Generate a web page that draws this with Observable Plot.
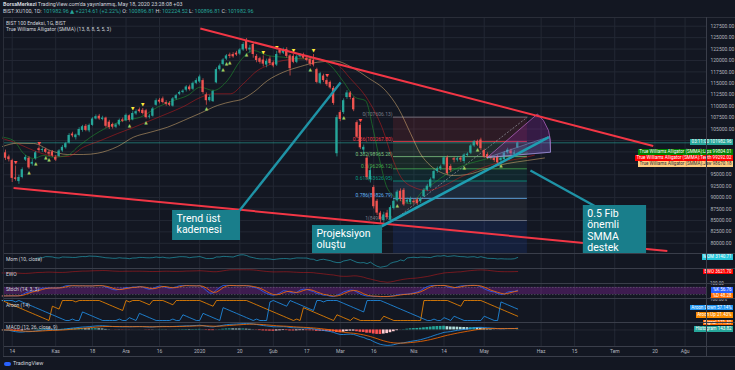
<!DOCTYPE html>
<html><head><meta charset="utf-8">
<script src="https://cdn.jsdelivr.net/npm/d3@7"></script>
<script src="https://cdn.jsdelivr.net/npm/@observablehq/plot@0.6"></script>
<style>
html,body{margin:0;padding:0;background:#131722;}
#root{position:relative;width:735px;height:370px;background:#131722;overflow:hidden;font-family:Roboto,"DejaVu Sans",sans-serif;color:#d1d4dc;}
.t{position:absolute;white-space:nowrap;font-size:5px;line-height:6px;}
.tag{position:absolute;right:2px;height:5.6px;line-height:5.6px;font-size:4.5px;white-space:nowrap;padding:0 1.5px;color:#fff;}
.ln{position:absolute;}
.v{color:#26a69a;}
</style></head><body><div id="root"></div>
<script>
// ---------- DATA ----------
const firstIndex = -3; // bar index of first candle (0 = 14 Oct 2019)
const opens = [
102400, 99800, 98900, 98100, 94300, 93500, 94400, 98200, 98600, 97300,
98500, 100700, 100300, 100500, 99900, 100000, 98800, 99000, 100200, 100900,
101900, 103900, 103100, 103600, 104700, 105600, 104600, 105800, 107200, 107800,
107100, 107400, 106500, 106000, 105400, 105900, 107000, 106800, 107900, 107000,
108300, 109200, 109100, 109000, 107600, 107800, 110200, 111300, 111600, 110800,
110600, 110000, 111600, 112600, 113000, 113500, 114200, 113700, 115000, 115300,
115600, 112500, 111200, 111000, 115100, 118000, 119100, 120300, 121200, 121300,
121600, 121400, 122300, 124200, 122300, 123500, 120900, 120400, 120100, 119000,
120300, 119500, 119000, 122200, 121600, 122400, 121000, 120900, 119600, 120800,
121200, 120500, 120200, 120000, 118000, 115000, 116600, 115600, 115200, 113900,
99600, 108600, 108600, 111900, 112900, 111700, 106400, 105800, 100400, 98600,
93900, 92200, 89200, 86600, 85000, 86600, 85100, 87600, 89300, 91400,
91600, 89000, 88900, 89200, 89500, 89100, 90200, 91600, 92300, 94100,
95700, 96300, 97200, 98700, 96800, 98500, 98200, 98600, 97900, 99200,
99700, 101300, 102300, 102600, 100300, 99400, 98900, 98600, 99000, 98100,
98300, 99800, 100200, 99500, 100896.81];
const highs = [
102900, 100400, 99300, 98400, 96900, 94900, 96500, 99200, 99000, 98300,
100100, 101100, 100900, 100800, 100300, 100300, 99200, 100500, 101400, 102100,
104000, 104300, 103900, 105300, 105800, 106000, 106100, 107500, 108100, 108200,
107800, 107600, 106900, 106300, 106200, 107200, 107400, 108300, 108100, 108800,
109200, 109600, 109500, 109300, 108200, 109700, 111600, 111700, 112000, 111200,
111000, 111900, 112600, 113300, 113600, 114500, 114600, 115300, 116000, 116800,
116000, 112900, 112400, 113500, 118400, 119200, 120400, 121300, 121600, 121700,
122000, 122600, 123900, 124800, 123300, 123900, 121300, 120700, 121000, 120300,
120800, 119900, 122000, 122600, 122700, 122800, 121300, 121300, 121100, 121500,
121600, 120900, 120600, 121300, 118300, 117400, 117000, 116000, 115500, 114300,
108000, 109000, 111600, 113400, 113200, 112000, 106800, 106200, 101500, 99000,
96600, 92600, 89600, 87000, 86800, 87200, 88200, 89600, 91600, 91900,
92000, 89900, 90100, 89700, 89900, 90100, 92000, 92900, 94300, 96100,
96700, 97100, 99000, 99100, 97200, 98800, 98900, 99000, 99600, 99800,
101600, 102500, 102600, 103000, 100600, 99800, 99200, 99000, 99300, 99000,
100100, 100800, 100600, 100300, 102224.52];
const lows = [
99400, 98100, 97800, 93300, 93600, 92900, 94100, 97900, 96200, 96900,
98200, 99900, 99900, 99600, 99000, 98800, 97900, 98800, 99900, 100600,
101700, 103100, 102600, 103300, 104300, 104400, 104200, 105600, 107000, 106900,
106800, 105200, 104900, 105000, 105100, 105600, 106400, 106600, 106500, 106800,
108000, 108500, 108100, 107200, 107200, 107600, 110000, 110500, 110500, 110000,
109900, 109800, 111300, 112300, 112700, 113100, 113300, 113400, 114700, 115000,
112600, 110200, 110900, 110800, 114900, 117700, 118800, 120000, 120400, 120500,
120900, 121100, 122000, 122000, 121600, 120500, 119500, 119200, 118600, 118400,
118900, 118400, 118700, 121200, 121300, 120500, 116600, 119300, 119300, 120500,
120300, 119700, 118700, 118600, 114900, 114700, 115200, 114300, 113700, 110200,
98900, 106600, 108200, 111500, 111400, 108800, 102900, 100500, 99500, 93900,
93200, 87500, 86100, 84300, 84400, 85200, 84700, 87300, 89000, 89100,
88100, 88600, 88400, 88500, 88300, 88700, 90000, 91300, 92000, 93800,
95300, 95900, 96900, 94900, 95500, 97600, 97800, 97700, 97400, 98900,
99400, 101000, 101200, 100300, 98600, 98300, 98200, 97700, 97200, 97700,
98000, 99500, 99200, 99300, 100896.81];
const closes = [
99700, 98600, 98300, 94200, 94000, 94400, 96100, 98800, 96500, 97700,
99800, 100300, 100500, 99900, 99500, 99100, 98200, 100200, 101000, 101800,
103600, 103500, 103700, 104900, 105500, 104700, 105800, 107200, 107700, 107200,
107400, 105600, 105300, 105400, 105900, 106900, 106700, 108000, 106900, 108400,
108800, 108800, 108400, 107500, 107800, 109400, 111200, 110900, 110800, 110400,
110200, 111600, 112300, 113000, 113300, 114200, 113600, 115000, 115600, 116400,
113000, 111200, 111900, 113200, 118000, 118800, 120100, 121000, 120900, 120800,
121200, 122300, 123500, 122500, 122700, 121300, 120000, 119600, 119200, 119800,
119300, 118800, 121300, 121600, 122300, 120900, 118200, 119600, 120800, 121200,
120500, 120000, 119200, 119000, 115200, 117100, 115600, 114700, 114000, 110600,
107500, 107100, 111200, 112900, 111900, 109200, 103200, 100900, 101000, 94400,
95900, 88000, 86600, 85200, 86200, 85600, 87800, 89200, 91200, 89600,
88400, 89400, 89600, 88900, 88700, 89700, 91600, 92500, 93900, 95700,
96300, 96700, 98700, 95200, 95900, 98200, 98500, 98200, 99300, 99500,
101300, 102200, 101500, 100700, 98842.25, 98600, 98600, 98100, 97600, 98600,
99700, 100400, 99600, 99768.35, 101982.96];

// time axis (bar index of each label)
const tickIdx = [0, 13, 24, 34, 44, 56, 68, 78, 88, 98, 108, 120, 129, 141, 158, 168, 180, 192, 201];
const tickLabels = ["14", "Kas", "18", "Ara", "16", "2020", "20", "Şub", "17", "Mar", "16", "Nis", "14", "May", "Haz", "15", "Tem", "20", "Ağu"];
const priceTicks = [80000, 82500, 85000, 87500, 90000, 92500, 95000, 97500, 100000, 102500, 105000, 107500, 110000, 112500, 115000, 117500, 120000, 122500, 125000, 127500];
// price labels hidden behind the value tags in the picture
const hiddenPriceLabels = [97500, 100000, 102500];

// Alligator lines (bar index, value)
const jawBars = [-2.9, 1.6, 6.4, 11.4, 16.5, 21.3, 25.5, 31.5, 36.2, 41.3, 46.4, 51.2, 56.2, 61.3, 66.1, 68.2, 72.1, 76.3, 81.0, 86.1, 91.2, 96.6, 101.0, 106.4, 111.5, 115.4, 119.0, 121.9, 124.9, 127.9, 131.8, 136.0, 141.9, 147.9, 153.9, 159];
const jawVals = [101180, 101900, 101840, 100300, 99430, 99430, 99710, 101180, 103210, 104310, 105400, 106870, 108460, 110150, 111090, 111400, 113060, 115620, 117440, 118680, 119620, 119890, 118680, 116170, 113430, 109490, 104020, 99650, 97020, 95560, 94830, 95050, 96370, 97460, 98120, 98670.18];
const teethBars = [-2.9, 1.6, 6.4, 11.4, 16.5, 21.3, 26.4, 31.5, 36.2, 41.3, 46.4, 51.2, 56.2, 60.1, 65.2, 69.1, 73.3, 76.3, 81.0, 86.1, 91.2, 96.6, 101.0, 106.4, 110.6, 113.6, 116.0, 119.9, 124.1, 127.9, 133.9, 139.9, 145.8, 151.8, 156];
const teethVals = [102930, 101840, 100300, 99210, 98990, 101030, 102490, 104020, 105340, 106870, 108400, 109930, 111900, 112710, 112710, 114960, 117810, 118900, 120000, 120370, 120210, 119340, 116060, 111240, 105120, 98550, 94610, 92270, 91550, 92270, 94460, 96370, 97740, 98550, 99292.02];
const lipsBars = [-2.9, 0.4, 3.4, 6.4, 9.3, 12.3, 16.5, 19.5, 23.4, 28.5, 33.2, 38.3, 43.4, 48.2, 52.4, 56.2, 60.1, 64.3, 68.2, 72.1, 76.3, 81.0, 86.1, 91.2, 95.1, 98.9, 102.5, 105.5, 107.9, 110.0, 112.1, 116.0, 119.0, 122.8, 125.8, 130.0, 134.8, 139.9, 143.8, 149.7, 154];
const lipsVals = [103210, 102490, 99650, 98550, 99210, 98840, 99210, 101030, 103210, 105400, 106870, 107590, 109780, 111240, 112340, 114150, 113430, 115620, 120000, 122180, 121090, 120720, 120370, 120370, 118900, 115400, 111900, 111240, 104680, 97460, 91990, 89360, 88710, 91550, 93080, 95270, 97020, 98120, 98840, 99210, 99804.01];

// Williams fractal markers (bar indices)
const fractalHighYellow = [36, 39, 75, 79, 84, 90];
const fractalHighRed = [1, 8, 94, 104];
const fractalLow = [5, 7, 10, 11, 35, 40, 58, 63, 64, 65, 70, 89, 99, 110, 115, 135, 139, 146];

// Fibonacci retracement
const fibRatios = ["0", "0.236", "0.382", "0.5", "0.618", "0.786", "1"];
const fibPrices = [107606.13, 102267.80, 98965.28, 96296.12, 93626.95, 89826.79, 84986.13];
const fibColors = ["#787b86", "#f23645", "#81c784", "#4caf50", "#089981", "#64b5f6", "#787b86"];
const fibStart = 113.9, fibEnd = 153.9;

// drawings (bar index, price)
const redLines = [{x1: 56.2, y1: 127000, x2: 191.5, y2: 101290}, {x1: 0.4, y1: 92100, x2: 195.7, y2: 78310}];
const supportLine = [{x1: 108.8, y1: 83130, x2: 160.3, y2: 103210}];
const calloutLines = [{x1: 67.2, y1: 86520, x2: 98.1, y2: 115160}, {x1: 154.8, y1: 95930, x2: 174.8, y2: 87830}];
const fibDash = [{x1: 113.9, y1: 84986.13, x2: 153.9, y2: 107606.13}];
const wedgeBars = [141.9, 156.9, 158.7, 160.2, 160.8, 160.8, 141.9];
const wedgeVals = [98770, 108290, 106870, 104680, 102490, 99930, 98770];
const wedgeInnerBars = [141.9, 160.5, 160.8, 141.9];
const wedgeInnerVals = [98770, 103370, 99930, 98770];
const boxes = [
  {x1: 47.9, x2: 68.2, y1: 87180, y2: 80610, text: "Trend üst\nkademesi"},
  {x1: 89.7, x2: 110.6, y1: 83890, y2: 76000, text: "Projeksiyon\noluştu"},
  {x1: 170.6, x2: 189.5, y1: 88270, y2: 76000, text: "0.5 Fib\nönemli\nSMMA\ndestek"}
];

// ---------- RENDER ----------
const root = document.getElementById("root");
const GRID = "#232834";
const X_DOMAIN = [-2.6, 207.4];
const MAIN_Y = [77767, 129404];
const UP = "#26a69a", DOWN = "#ef5350";
const bars = closes.map((c, k) => ({i: k + firstIndex, o: opens[k], h: highs[k], l: lows[k], c}));
const barColor = d => d.c >= d.o ? UP : DOWN;
const pts = (xs, ys) => xs.map((x, k) => ({i: x, p: ys[k]}));
const baseStyle = {background: "transparent", color: "#b2b5be", fontSize: "5px", fontFamily: "Roboto, 'DejaVu Sans', sans-serif", overflow: "visible"};

function place(svg, top) { svg.style.position = "absolute"; svg.style.left = "0px"; svg.style.top = top + "px"; root.appendChild(svg); return svg; }
function pane(top, h, y, marks, grid = true) {
  return place(Plot.plot({
    width: 735, height: h, marginLeft: 3, marginRight: 29, marginTop: 0, marginBottom: 0,
    x: {domain: X_DOMAIN, axis: null}, y: {axis: null, ...y}, color: {type: "identity"}, style: baseStyle,
    marks: [grid ? Plot.ruleX(tickIdx, {stroke: GRID}) : null, ...marks]
  }), top);
}

const fib = fibPrices.map((p, k) => ({r: fibRatios[k], p, color: fibColors[k]}));
const fibBands = fib.slice(1).map((d, k) => ({top: fib[k].p, bottom: d.p, color: d.color}));
fibBands.push({top: fib[fib.length - 1].p, bottom: MAIN_Y[0], color: "#2962ff"});
const atBar = list => list.map(i => bars[i - firstIndex]);
const shownPriceLabels = priceTicks.filter(p => !hiddenPriceLabels.includes(p));

pane(17, 236, {domain: MAIN_Y}, [
  Plot.ruleY(priceTicks, {stroke: GRID}),
  Plot.rect(fibBands, {x1: () => fibStart, x2: () => fibEnd, y1: "top", y2: "bottom", fill: "color", fillOpacity: 0.12, clip: true}),
  Plot.ruleY(fib, {y: "p", x1: () => fibStart, x2: () => fibEnd, stroke: "color", strokeWidth: 0.8}),
  Plot.text(fib, {x: () => fibStart, y: "p", text: d => `${d.r}(${d.p.toFixed(2)})`, textAnchor: "end", dx: -1, dy: -2.5, fill: "color", fontSize: 5}),
  Plot.link(fibDash, {x1: "x1", y1: "y1", x2: "x2", y2: "y2", stroke: "#9598a1", strokeWidth: 0.7, strokeDasharray: "2,1.5"}),
  Plot.ruleY([closes[closes.length - 1]], {stroke: UP, strokeWidth: 0.7, strokeOpacity: 0.85}),
  Plot.line(pts(jawBars, jawVals), {x: "i", y: "p", stroke: "#ffcc80", strokeOpacity: 0.5, strokeWidth: 0.9, curve: "monotone-x"}),
  Plot.line(pts(teethBars, teethVals), {x: "i", y: "p", stroke: "#ff1a1a", strokeOpacity: 0.45, strokeWidth: 0.9, curve: "monotone-x"}),
  Plot.line(pts(lipsBars, lipsVals), {x: "i", y: "p", stroke: "#1f9a2e", strokeOpacity: 0.6, strokeWidth: 0.9, curve: "monotone-x"}),
  Plot.ruleX(bars, {x: "i", y1: "l", y2: "h", stroke: barColor, strokeWidth: 0.7, clip: true}),
  Plot.rect(bars, {x1: d => d.i - 0.34, x2: d => d.i + 0.34, y1: "o", y2: "c", fill: barColor, clip: true}),
  Plot.text(atBar(fractalHighYellow), {x: "i", y: "h", text: () => "▼", fill: "#ffeb3b", fontSize: 4.5, dy: -3.5}),
  Plot.text(atBar(fractalHighRed), {x: "i", y: "h", text: () => "▼", fill: "#ff5252", fontSize: 4.5, dy: -3.5}),
  Plot.text(atBar(fractalLow), {x: "i", y: "l", text: () => "▲", fill: "#9ccc65", fontSize: 4.5, dy: 3.5}),
  Plot.line(pts(wedgeBars, wedgeVals), {x: "i", y: "p", fill: "#9c27b0", fillOpacity: 0.25, stroke: "#ba68c8", strokeWidth: 0.7}),
  Plot.line(pts(wedgeInnerBars, wedgeInnerVals), {x: "i", y: "p", fill: "#64b5f6", fillOpacity: 0.15, stroke: "#90caf9", strokeOpacity: 0.6, strokeWidth: 0.6}),
  Plot.link(redLines, {x1: "x1", y1: "y1", x2: "x2", y2: "y2", stroke: "#f23645", strokeWidth: 2}),
  Plot.link(supportLine, {x1: "x1", y1: "y1", x2: "x2", y2: "y2", stroke: "#1f9db1", strokeWidth: 2.6}),
  Plot.link(calloutLines, {x1: "x1", y1: "y1", x2: "x2", y2: "y2", stroke: "#1f93a6", strokeWidth: 2.4}),
  Plot.rect(boxes, {x1: "x1", x2: "x2", y1: "y1", y2: "y2", fill: "#197e8b", clip: true}),
  Plot.text(boxes, {x: "x1", y: "y1", text: "text", textAnchor: "start", lineAnchor: "top", dx: 4, dy: 3, fill: "#ffffff", fontSize: 10.5, lineHeight: 1.1}),
  Plot.text(shownPriceLabels, {x: () => X_DOMAIN[1], y: d => d, text: d => d.toFixed(2), textAnchor: "start", dx: 4, fill: "#b2b5be", fontSize: 5})
]);

// indicators derived from the candles
function sma(a, len) { return a.map((_, k) => { let s = 0, m = 0; for (let j = Math.max(0, k - len + 1); j <= k; j++) if (isFinite(a[j])) { s += a[j]; m++; } return m ? s / m : NaN; }); }
function ema(a, len) { const al = 2 / (len + 1); let prev = NaN; return a.map(v => { if (!isFinite(v)) return prev; prev = isFinite(prev) ? al * v + (1 - al) * prev : v; return prev; }); }
const mom = closes.map((c, k) => k >= 10 ? c - closes[k - 10] : NaN);
const s5 = sma(closes, 5), s35 = sma(closes, 35);
const ewo = closes.map((_, k) => s5[k] - s35[k]);
const rawK = closes.map((c, k) => { const s = Math.max(0, k - 13); const hh = d3.max(highs.slice(s, k + 1)), ll = d3.min(lows.slice(s, k + 1)); return hh > ll ? 100 * (c - ll) / (hh - ll) : 50; });
const stK = sma(rawK, 3), stD = sma(stK, 3);
const aroonUp = closes.map((_, k) => { const s = Math.max(0, k - 14); let b = s; for (let j = s; j <= k; j++) if (highs[j] >= highs[b]) b = j; return 100 * (14 - (k - b)) / 14; });
const aroonDown = closes.map((_, k) => { const s = Math.max(0, k - 14); let b = s; for (let j = s; j <= k; j++) if (lows[j] <= lows[b]) b = j; return 100 * (14 - (k - b)) / 14; });
const e12 = ema(closes, 12), e26 = ema(closes, 26);
const macd = closes.map((_, k) => e12[k] - e26[k]);
const signal = ema(macd, 9);
const hist = macd.map((m, k) => m - signal[k]);
const ser = a => a.map((v, k) => ({i: k + firstIndex, v}));
const padded = (arrs, f = 0.1) => { const e = d3.extent(arrs.flat().filter(isFinite)); const d = (e[1] - e[0]) * f; return [e[0] - d, e[1] + d]; };

pane(253, 15, {domain: padded([mom])}, [Plot.line(ser(mom), {x: "i", y: "v", stroke: "#26c6da", strokeOpacity: 0.65, strokeWidth: 0.8})]);
pane(268, 15, {domain: padded([ewo])}, [Plot.line(ser(ewo), {x: "i", y: "v", stroke: "#ff1a1a", strokeOpacity: 0.45, strokeWidth: 0.9})]);
pane(283, 15, {domain: [0, 100], insetTop: 1.5, insetBottom: 1.5}, [
  Plot.rect([0], {x1: () => X_DOMAIN[0], x2: () => X_DOMAIN[1], y1: () => 20, y2: () => 80, fill: "#9c27b0", fillOpacity: 0.32}),
  Plot.ruleY([20, 80], {stroke: "#787b86", strokeDasharray: "1.5,1.5", strokeWidth: 0.5}),
  Plot.line(ser(stK), {x: "i", y: "v", stroke: "#2962ff", strokeWidth: 0.8}),
  Plot.line(ser(stD), {x: "i", y: "v", stroke: "#ff6d00", strokeWidth: 0.8})
]);
pane(298, 24, {domain: [0, 100], insetTop: 2, insetBottom: 2}, [
  Plot.line(ser(aroonUp), {x: "i", y: "v", stroke: "#fb8c00", strokeWidth: 0.8}),
  Plot.line(ser(aroonDown), {x: "i", y: "v", stroke: "#2196f3", strokeWidth: 0.8})
]);
const histData = hist.map((h, k) => ({i: k + firstIndex, v: h, color: h >= 0 ? (k && h < hist[k - 1] ? "#b2dfdb" : "#26a69a") : (k && h > hist[k - 1] ? "#ffcdd2" : "#ff5252")}));
pane(322, 24, {domain: padded([macd, signal, hist], 0.05)}, [
  Plot.ruleY([0], {stroke: "#787b86", strokeOpacity: 0.35, strokeWidth: 0.5}),
  Plot.rect(histData, {x1: d => d.i - 0.4, x2: d => d.i + 0.4, y1: () => 0, y2: "v", fill: "color"}),
  Plot.line(ser(macd), {x: "i", y: "v", stroke: "#2196f3", strokeWidth: 0.8}),
  Plot.line(ser(signal), {x: "i", y: "v", stroke: "#ff6d00", strokeWidth: 0.8})
]);
pane(346, 10, {domain: [0, 1]}, [
  Plot.text(tickIdx, {x: d => d, y: () => 0.5, text: (d, k) => tickLabels[k], fill: "#b2b5be", fontSize: 5})
], false);

// ---------- HTML texts, tags, frame ----------
function addText(x, y, html, css = "") { const d = document.createElement("div"); d.className = "t"; d.style.cssText += `left:${x}px;top:${y}px;${css}`; d.innerHTML = html; root.appendChild(d); }
function tag(y, bg, text, fg = "#fff") { const d = document.createElement("div"); d.className = "tag"; d.style.top = y + "px"; d.style.background = bg; d.style.color = fg; d.textContent = text; root.appendChild(d); }
function line(x, y, w, h, c) { const d = document.createElement("div"); d.className = "ln"; d.style.cssText = `left:${x}px;top:${y}px;width:${w}px;height:${h}px;background:${c}`; root.appendChild(d); }

addText(3, 1, `<b>BorsaMerkezi</b> TradingView.com'da yayınlanmış, May 18, 2020 23:28:08 +03`, "font-size:5.4px");
addText(3, 7.7, `BIST:XU100, 1D: <span class="v">101982.96 ▲ +2214.61 (+2.22%)</span> O: <span class="v">100896.81</span> H: <span class="v">102224.52</span> L: <span class="v">100896.81</span> C: <span class="v">101982.96</span>`, "font-size:5.4px");
addText(6, 19.7, "BIST 100 Endeksi, 1G, BIST");
addText(6, 25.6, "True Williams Alligator (SMMA) (13, 8, 8, 5, 5, 3)");
addText(6, 256, "Mom (10, close)");
addText(6, 271, "EWO");
addText(6, 286, "Stoch (14, 3, 3)");
addText(6, 302, "Aroon (14)");
addText(6, 324, "MACD (12, 26, close, 9)");
addText(710, 281.2, "100.00", "color:#b2b5be;font-size:4.5px;line-height:5px");
addText(710, 297.2, "100.00%", "color:#b2b5be;font-size:4.5px;line-height:5px");

tag(139, "#26a69a", "03:11:00  101982.96");
tag(149, "#008000", "True Williams Alligator (SMMA):Lips  99804.01");
tag(155, "#ff0000", "True Williams Alligator (SMMA):Teeth  99292.02");
tag(161, "#ffcc80", "True Williams Alligator (SMMA):Jaw  98670.18", "#2a2e39");
tag(254, "#26c6da", "MOM  3140.71");
tag(268.7, "#ff0000", "EWO  3621.70");
tag(287, "#2962ff", "%K  56.76");
tag(293, "#ff6d00", "%D  48.28");
tag(304.7, "#2196f3", "Aroon Down  57.14%");
tag(312, "#fb8c00", "Aroon Up  21.43%");
tag(319.7, "#ff6d00", "Signal  171.39");
tag(326, "#26a69a", "Histogram  143.82");

line(3, 17, 732, 1, "#2a2e39");
[253, 268, 283, 298, 322, 346, 356].forEach(y => line(3, y - 0.5, 732, 1, "#3a3e4a"));
line(3, 17, 1, 339, "#2a2e39");
line(706, 17, 1, 339, "#3a3e4a");

const logo = document.createElement("div");
logo.className = "t";
logo.style.cssText += "left:4px;top:360px;font-size:5.5px;color:#d1d4dc";
logo.innerHTML = `<span style="display:inline-block;width:7px;height:4px;background:#2962ff;border-radius:2px;margin-right:2px;vertical-align:middle"></span>TradingView`;
root.appendChild(logo);
</script></body></html>
